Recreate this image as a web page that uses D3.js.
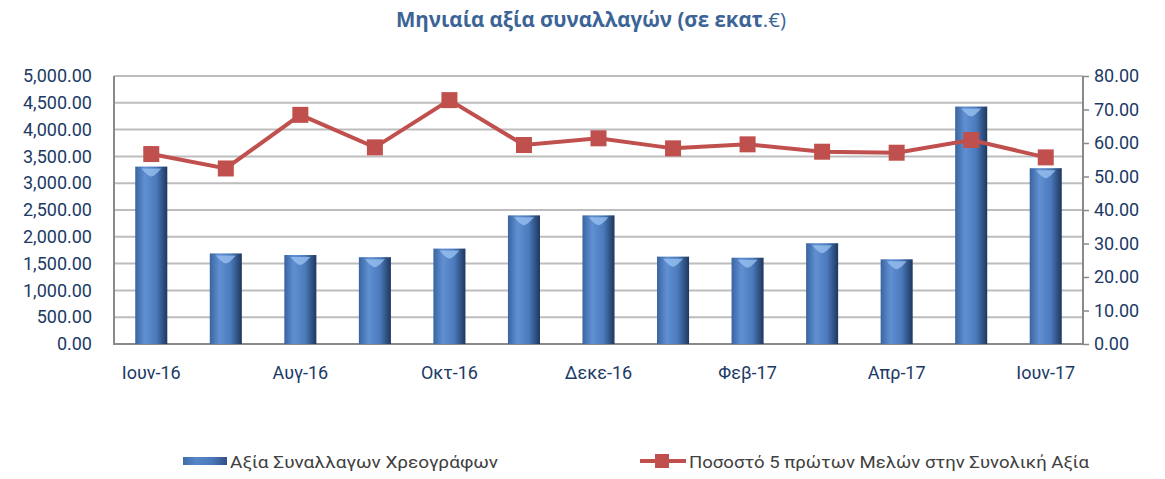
<!DOCTYPE html>
<html><head><meta charset="utf-8">
<script src="https://cdn.jsdelivr.net/npm/d3@7"></script>
<style>body{margin:0;background:#fff}svg{display:block}</style>
</head><body><svg id="c" width="1165" height="479"></svg>
<script>
const categories = ["Ιουν-16","Ιουλ-16","Αυγ-16","Σεπτ-16","Οκτ-16","Νοεμ-16","Δεκε-16","Ιαν-17","Φεβ-17","Μαρ-17","Απρ-17","Μαϊ-17","Ιουν-17"];
const tradeValue = [3310,1690,1660,1620,1780,2400,2400,1630,1610,1880,1580,4430,3280];
const top5Share = [56.7,52.4,68.4,58.7,72.8,59.4,61.4,58.4,59.6,57.4,57.1,60.9,55.7];
const leftTicks = [0,500,1000,1500,2000,2500,3000,3500,4000,4500,5000];
const rightTicks = [0,10,20,30,40,50,60,70,80];
const xLabelShown = ["Ιουν-16","Αυγ-16","Οκτ-16","Δεκε-16","Φεβ-17","Απρ-17","Ιουν-17"];

const svg = d3.select("#c");
const L=114, R=1083, T=76, B=344;
const x = d3.scaleBand().domain(categories).range([L,R]).paddingInner(0.57).paddingOuter(0.285);
const yL = d3.scaleLinear().domain([0,5000]).range([B,T]);
const yR = d3.scaleLinear().domain([0,80]).range([B,T]);
const navy = "#1b3a66";

const defs = svg.append("defs");
const g = defs.append("linearGradient").attr("id","barg").attr("x1","0").attr("x2","1");
g.append("stop").attr("offset","0").attr("stop-color","#3a64a0");
g.append("stop").attr("offset","0.3").attr("stop-color","#6090d2");
g.append("stop").attr("offset","0.65").attr("stop-color","#4b7bbd");
g.append("stop").attr("offset","1").attr("stop-color","#1e375e");

// title
const title = svg.append("text").attr("x",591).attr("y",27).attr("text-anchor","middle")
  .attr("font-family","Open Sans, sans-serif").attr("font-size",20.5).attr("font-weight","bold")
  .attr("fill","#3c6497");
title.append("tspan").text("Μηνιαία αξία συναλλαγών (σε εκατ");
title.append("tspan").attr("font-weight","normal").text(".€)");

// gridlines
svg.append("g").selectAll("line").data(leftTicks).join("line")
  .attr("x1",L).attr("x2",R).attr("y1",d=>yL(d)).attr("y2",d=>yL(d))
  .attr("stroke",d=>d===0?"#8a8a8a":"#bdbdbd").attr("stroke-width",2);
// left axis line
svg.append("line").attr("x1",L).attr("x2",L).attr("y1",T).attr("y2",B+1).attr("stroke","#8a8a8a").attr("stroke-width",2);

// left axis labels
const axL = d3.axisLeft(yL).tickValues(leftTicks).tickSize(0).tickPadding(22).tickFormat(d3.format(",.2f"));
svg.append("g").attr("transform",`translate(${L},0)`).call(axL)
  .call(s=>s.select(".domain").remove())
  .selectAll("text").attr("font-family","Roboto, sans-serif").attr("font-size",18).attr("fill",navy);

// right axis
const axR = d3.axisRight(yR).tickValues(rightTicks).tickSize(6).tickPadding(5).tickFormat(d3.format(".2f"));
svg.append("g").attr("transform",`translate(${R},0)`).call(axR)
  .call(s=>{s.select(".domain").attr("stroke","#8a8a8a").attr("stroke-width",2).attr("d",`M0,${T}V${B}`);
            s.selectAll(".tick line").attr("stroke","#8a8a8a").attr("stroke-width",1.5);})
  .selectAll("text").attr("font-family","Roboto, sans-serif").attr("font-size",18).attr("fill",navy);

// bars
const bars = svg.append("g").selectAll("g").data(categories).join("g");
bars.append("rect").attr("x",d=>x(d)).attr("width",x.bandwidth())
  .attr("y",(d,i)=>yL(tradeValue[i])).attr("height",(d,i)=>B-yL(tradeValue[i]))
  .attr("fill","url(#barg)");
bars.append("path").attr("d",(d,i)=>{const x0=x(d)+6,x1=x(d)+x.bandwidth()-6,y=yL(tradeValue[i])+2,cx=(x0+x1)/2;
  return `M${x0},${y}L${x1},${y}Q${cx+3},${y+8} ${cx},${y+8}Q${cx-3},${y+8} ${x0},${y}Z`;})
  .attr("fill","#9cc3f2").attr("opacity",0.75);

// x labels
const axX = d3.axisBottom(x).tickValues(xLabelShown).tickSize(0).tickPadding(22);
svg.append("g").attr("transform",`translate(0,${B})`).call(axX)
  .call(s=>s.select(".domain").remove())
  .selectAll("text").attr("font-family","Roboto, sans-serif").attr("font-size",18).attr("fill",navy);

// line
const cx = d=>x(d)+x.bandwidth()/2;
svg.append("path").datum(categories).attr("fill","none").attr("stroke","#c0504d").attr("stroke-width",4)
  .attr("d",d3.line().x(d=>cx(d)).y((d,i)=>yR(top5Share[i])));
svg.append("g").selectAll("rect").data(categories).join("rect")
  .attr("x",d=>cx(d)-8).attr("y",(d,i)=>yR(top5Share[i])-8).attr("width",16).attr("height",16).attr("fill","#c0504d");

// legend
const lg = svg.append("g");
lg.append("rect").attr("x",183).attr("y",457).attr("width",44).attr("height",8).attr("fill","url(#barg)");
lg.append("rect").attr("x",183).attr("y",457).attr("width",44).attr("height",8).attr("fill","#4a78b8").attr("opacity",0.4);
lg.append("text").attr("x",230).attr("y",468).attr("font-family","Roboto, sans-serif").attr("font-size",16)
  .attr("fill","#404040").attr("textLength",268).attr("lengthAdjust","spacingAndGlyphs").text("Αξία Συναλλαγων Χρεογράφων");
lg.append("line").attr("x1",640).attr("x2",686).attr("y1",461).attr("y2",461).attr("stroke","#c0504d").attr("stroke-width",4);
lg.append("rect").attr("x",655).attr("y",454).attr("width",14).attr("height",14).attr("fill","#c0504d");
lg.append("text").attr("x",689).attr("y",468).attr("font-family","Roboto, sans-serif").attr("font-size",16)
  .attr("fill","#404040").attr("textLength",400).attr("lengthAdjust","spacingAndGlyphs").text("Ποσοστό 5 πρώτων Μελών στην Συνολική Αξία");
</script></body></html>
